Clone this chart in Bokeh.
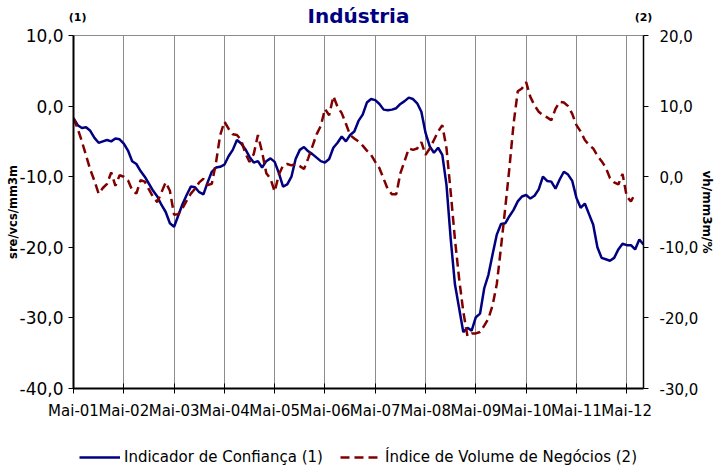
from bokeh.plotting import figure
from bokeh.layouts import column
from bokeh.models import (ColumnDataSource, Range1d, LinearAxis, FixedTicker,
                          Legend, LegendItem)
from bokeh.embed import file_html
from bokeh.resources import INLINE

# ---------------- data ----------------
title_text = "Indústria"
series_names = ["Indicador de Confiança (1)", "Índice de Volume de Negócios (2)"]
left_axis_title = "sre/vcs/mm3m"
right_axis_title = "vh/mm3m/%"
unit_marks = ["(1)", "(2)"]

tick_labels = ["Mai-01", "Mai-02", "Mai-03", "Mai-04", "Mai-05", "Mai-06",
               "Mai-07", "Mai-08", "Mai-09", "Mai-10", "Mai-11", "Mai-12"]
left_ticks = [10, 0, -10, -20, -30, -40]
left_tick_labels = ["10,0", "0,0", "-10,0", "-20,0", "-30,0", "-40,0"]
right_ticks = [20, 10, 0, -10, -20, -30]
right_tick_labels = ["20,0", "10,0", "0,0", "-10,0", "-20,0", "-30,0"]

# monthly, May 2001 .. Sep 2012 (left axis)
confianca = [
    -1.7, -2.7, -3.1, -3.0, -3.5, -4.5, -5.2, -5.0, -4.8, -5.0, -4.6, -4.7,
    -5.3, -6.3, -7.8, -8.2, -9.2, -10.0, -11.0, -12.0, -12.8, -14.0, -15.0, -16.6,
    -17.1, -15.5, -13.9, -12.6, -11.4, -11.5, -12.2, -12.5, -10.8, -9.3, -8.7, -8.6,
    -8.3, -7.1, -6.2, -4.8, -5.3, -6.1, -7.2, -8.0, -7.8, -8.7, -7.8, -7.4,
    -7.9, -9.5, -11.4, -11.1, -10.0, -7.5, -6.2, -5.8, -6.4, -6.8, -7.3, -7.8,
    -8.0, -7.5, -5.9, -5.2, -4.3, -5.0, -4.1, -3.6, -2.1, -1.2, 0.5, 1.0,
    0.85, 0.3, -0.5, -0.6, -0.5, -0.3, 0.3, 0.7, 1.2, 1.0, 0.4, -0.8,
    -3.8, -5.7, -6.6, -5.9, -6.9, -11.2, -18.8, -25.2, -28.6, -32.0, -31.4, -31.8,
    -29.9, -29.4, -25.8, -23.9, -21.0, -18.2, -16.7, -16.6, -15.6, -14.7, -13.5, -12.8,
    -12.6, -13.1, -12.7, -11.8, -10.0, -10.6, -10.7, -11.7, -10.4, -9.3, -9.7, -10.6,
    -13.0, -14.4, -13.8, -15.3, -16.8, -20.0, -21.5, -21.7, -21.9, -21.5, -20.3, -19.5,
    -19.7, -19.7, -20.3, -18.9, -19.6,
]
# monthly, May 2001 .. Jul 2012 (right axis)
volume = [
    8.3, 6.8, 5.0, 3.0, 1.0, -0.6, -2.4, -1.6, -1.0, 0.6, -1.3, 0.2,
    0.0, -0.5, -1.9, -2.4, -0.5, -0.7, -1.8, -2.9, -3.6, -2.2, -0.8, -2.0,
    -5.4, -5.3, -4.5, -3.4, -2.4, -1.7, -0.8, -0.3, -1.2, -1.0, 2.0, 5.9,
    7.8, 6.8, 6.0, 5.9, 5.2, 3.3, 2.1, 3.2, 5.9, 3.5, 0.5, -0.3,
    -2.1, 0.3, 1.6, 1.8, 1.6, 1.8, 1.5, 1.1, 2.6, 4.3, 6.0, 7.2,
    9.6, 8.7, 11.4, 9.9, 9.0, 7.5, 5.9, 5.4, 5.0, 4.4, 3.7, 3.1,
    2.1, 1.2, -0.3, -1.8, -2.5, -2.5, 0.5, 2.2, 4.0, 3.8, 4.0, 4.9,
    3.1, 4.0, 5.2, 6.4, 7.3, 4.0, -2.2, -8.8, -14.4, -19.1, -22.6, -22.2,
    -22.2, -22.0, -21.1, -20.1, -18.2, -15.2, -10.0, -4.5, 1.2, 7.5, 12.1, 12.5,
    13.4, 11.3, 10.1, 9.2, 8.7, 8.4, 8.0, 9.6, 10.6, 10.5, 10.0, 8.9,
    7.3, 6.4, 5.2, 4.5, 4.0, 3.0, 2.2, 1.3, -0.2, -0.8, -1.1, 0.4,
    -2.8, -3.5, -2.4,
]

months = list(range(len(confianca)))
volume_full = volume + [float("nan")] * (len(confianca) - len(volume))
src = ColumnDataSource(data=dict(month=months, confianca=confianca, volume=volume_full))

last_month = months[-1]
year_ticks = [12 * i for i in range(len(tick_labels))]
unit_ticks = [1, last_month]

FONT = "DejaVu Sans"
BLUE = "#000080"
RED = "#800000"

# ---------------- main chart ----------------
chart = figure(width=717, height=444, output_backend="svg", toolbar_location=None,
               x_range=Range1d(0, last_month), y_range=Range1d(-40, 10), title=None,
               min_border_left=73, min_border_right=71, min_border_top=35,
               min_border_bottom=56)
chart.extra_y_ranges = {"right": Range1d(-30, 20)}
chart.background_fill_color = "white"
chart.border_fill_color = "white"
chart.outline_line_color = "#8c8c8c"
chart.outline_line_width = 1

# bottom axis
xa = chart.xaxis[0]
xa.ticker = FixedTicker(ticks=year_ticks)
xa.major_label_overrides = {t: lab for t, lab in zip(year_ticks, tick_labels)}
xa.axis_line_color = "black"
xa.axis_line_width = 2
xa.major_tick_in = 5
xa.major_tick_out = 5
xa.major_tick_line_color = "black"
xa.minor_tick_line_color = None
xa.minor_tick_in = 0
xa.minor_tick_out = 0
xa.major_label_standoff = 8
xa.major_label_text_font = FONT
xa.major_label_text_font_size = "15px"
xa.major_label_text_color = "black"

# left axis
ya = chart.yaxis[0]
ya.ticker = FixedTicker(ticks=left_ticks)
ya.major_label_overrides = {t: lab for t, lab in zip(left_ticks, left_tick_labels)}
ya.axis_line_color = "black"
ya.axis_line_width = 2
ya.major_tick_in = 0
ya.major_tick_out = 5
ya.major_tick_line_color = "black"
ya.minor_tick_line_color = None
ya.minor_tick_in = 0
ya.minor_tick_out = 0
ya.major_label_standoff = 5
ya.major_label_text_font = FONT
ya.major_label_text_font_size = "17px"
ya.major_label_text_color = "black"
ya.axis_label = left_axis_title
ya.axis_label_standoff = -3
ya.axis_label_text_font = FONT
ya.axis_label_text_font_style = "bold"
ya.axis_label_text_font_size = "11.5px"
ya.axis_label_text_color = "black"

# right axis
ra = LinearAxis(y_range_name="right", ticker=FixedTicker(ticks=right_ticks))
ra.major_label_overrides = {t: lab for t, lab in zip(right_ticks, right_tick_labels)}
ra.axis_line_color = "black"
ra.axis_line_width = 1.5
ra.major_tick_in = 0
ra.major_tick_out = 5
ra.major_tick_line_color = "black"
ra.minor_tick_line_color = None
ra.minor_tick_in = 0
ra.minor_tick_out = 0
ra.major_label_standoff = 11
ra.major_label_text_font = FONT
ra.major_label_text_font_size = "15px"
ra.major_label_text_color = "black"
ra.axis_label = right_axis_title
ra.axis_label_standoff = -1
ra.axis_label_text_font = FONT
ra.axis_label_text_font_style = "bold"
ra.axis_label_text_font_size = "12px"
ra.axis_label_text_color = "black"
chart.add_layout(ra, "right")

# top: unit markers (1)/(2) and the chart title
ta = LinearAxis(ticker=FixedTicker(ticks=unit_ticks))
ta.major_label_overrides = {t: lab for t, lab in zip(unit_ticks, unit_marks)}
ta.axis_line_color = None
ta.major_tick_line_color = None
ta.minor_tick_line_color = None
ta.major_tick_in = 0
ta.major_tick_out = 0
ta.minor_tick_in = 0
ta.minor_tick_out = 0
ta.major_label_standoff = 12
ta.major_label_text_font = FONT
ta.major_label_text_font_style = "bold"
ta.major_label_text_font_size = "11px"
ta.major_label_text_color = "black"
ta.axis_label = title_text
ta.axis_label_standoff = -20
ta.axis_label_text_font = FONT
ta.axis_label_text_font_style = "bold"
ta.axis_label_text_font_size = "20px"
ta.axis_label_text_color = BLUE
chart.add_layout(ta, "above")

# grid
chart.xgrid.ticker = FixedTicker(ticks=year_ticks)
chart.xgrid.grid_line_color = "#8c8c8c"
chart.xgrid.grid_line_width = 1
chart.ygrid.grid_line_color = None

# series
chart.line("month", "confianca", source=src, line_color=BLUE, line_width=2.5)
chart.line("month", "volume", source=src, y_range_name="right",
           line_color=RED, line_width=2.5, line_dash="9 5")

# ---------------- legend strip ----------------
# same series drawn into a strip whose ranges keep them out of view, so the
# legend below the chart gets real glyph samples
leg = figure(width=717, height=26, output_backend="svg", toolbar_location=None,
             title=None, min_border=0, x_range=Range1d(0, 1),
             y_range=Range1d(1000, 1001))
leg.axis.visible = False
leg.grid.visible = False
leg.outline_line_color = None
leg.background_fill_color = "white"
leg.border_fill_color = "white"
k1 = leg.line("month", "confianca", source=src, line_color=BLUE, line_width=2.5)
k2 = leg.line("month", "volume", source=src, line_color=RED, line_width=2.5,
              line_dash="9 5")
legend = Legend(items=[LegendItem(label=series_names[0], renderers=[k1]),
                       LegendItem(label=series_names[1], renderers=[k2])],
                location="center", orientation="horizontal",
                glyph_width=41, glyph_height=16, label_height=16,
                label_standoff=4, spacing=17, padding=0, margin=0,
                border_line_color=None, background_fill_alpha=0,
                label_text_font=FONT, label_text_font_size="15px",
                label_text_color="black")
leg.add_layout(legend)

p = column(chart, leg, spacing=0)

open("out.html", "w").write(file_html(p, INLINE))
